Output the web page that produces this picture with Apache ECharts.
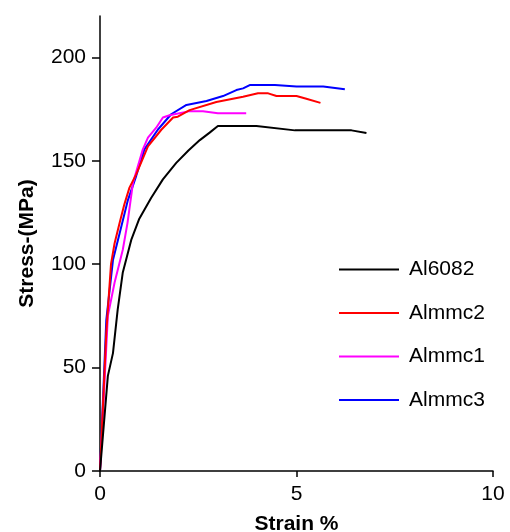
<!DOCTYPE html>
<html><head><meta charset="utf-8">
<script src="https://cdn.jsdelivr.net/npm/echarts@6/dist/echarts.min.js"></script>
<style>html,body{margin:0;padding:0;background:#fff}#c{width:510px;height:532px}</style>
</head><body><div id="c"></div>
<script>
const seriesNames = ['Al6082', 'Almmc2', 'Almmc1', 'Almmc3'];
const al6082 = [[0,0],[0.2,46],[0.33,57],[0.45,78],[0.58,96],[0.8,112],[1.0,122],[1.3,132],[1.6,141],[1.94,149],[2.25,155],[2.54,160],[2.79,163.6],[3.0,166.8],[3.98,166.8],[4.96,164.7],[6.4,164.7],[6.78,163.4]];
const almmc2 = [[0,0],[0.16,67],[0.28,100],[0.37,110],[0.5,120],[0.62,129],[0.75,137],[0.92,143.4],[1.22,157],[1.56,165],[1.86,170.9],[1.98,171.3],[2.28,174.5],[2.96,178.4],[3.64,181],[4.02,182.6],[4.28,182.6],[4.49,181.3],[5.0,181.3],[5.25,180],[5.61,178]];
const almmc1 = [[0,0],[0.2,75],[0.37,91],[0.58,107],[0.7,120],[0.84,139.4],[1.09,155.5],[1.22,161.2],[1.43,166],[1.6,170.9],[1.77,172],[2.28,174],[2.62,174],[3.0,173],[3.72,173]];
const almmc3 = [[0,0],[0.16,73],[0.33,102],[0.5,115],[0.71,131],[0.92,142.6],[1.13,155.5],[1.47,165],[1.81,172.5],[2.2,177],[2.71,178.9],[3.13,181.3],[3.47,184.2],[3.64,185],[3.81,186.6],[4.45,186.6],[5.0,185.9],[5.68,185.9],[6.23,184.6]];
const seriesData = [al6082, almmc2, almmc1, almmc3];
const colors = ['#000000', '#ff0000', '#ff00ff', '#0000ff'];
const yTicks = [0, 50, 100, 150, 200];
const xTicks = [0, 5, 10];

const chart = echarts.init(document.getElementById('c'), null, {renderer: 'canvas'});
const font = 'Liberation Sans, Arial, sans-serif';
chart.setOption({
  animation: false,
  backgroundColor: '#fff',
  grid: {left: 100, right: 17, top: 16, bottom: 61, containLabel: false, outerBoundsMode: 'none'},
  legend: {
    orient: 'vertical', left: 339, top: 259, padding: 0,
    itemWidth: 60, itemHeight: 2, itemGap: 22.5,
    icon: 'rect',
    data: seriesNames,
    textStyle: {fontFamily: font, fontSize: 21, color: '#000', padding: [0, 0, 0, 5]}
  },
  xAxis: {
    type: 'value', min: 0, max: 10, interval: 5,
    name: 'Strain %', nameLocation: 'middle', nameGap: 43,
    nameTextStyle: {fontFamily: font, fontSize: 21, fontWeight: 'bold', color: '#000'},
    axisLine: {show: true, lineStyle: {color: '#000', width: 1.5}},
    axisTick: {show: true, length: 6, customValues: xTicks, lineStyle: {color: '#000', width: 1.5}},
    axisLabel: {fontFamily: font, fontSize: 21, color: '#000', margin: 13, customValues: xTicks},
    splitLine: {show: false}
  },
  yAxis: {
    type: 'value', min: 0, max: 220,
    name: 'Stress-(MPa)', nameLocation: 'middle', nameGap: 62,
    nameTextStyle: {fontFamily: font, fontSize: 21, fontWeight: 'bold', color: '#000'},
    axisLine: {show: true, onZero: false, lineStyle: {color: '#000', width: 1.5}},
    axisTick: {show: true, length: 8, customValues: yTicks, lineStyle: {color: '#000', width: 1.5}},
    axisLabel: {fontFamily: font, fontSize: 21, color: '#000', margin: 14, customValues: yTicks},
    splitLine: {show: false}
  },
  series: seriesNames.map((n, i) => ({
    name: n, type: 'line', data: seriesData[i], showSymbol: false, symbol: 'none',
    color: colors[i], lineStyle: {color: colors[i], width: 2}, smooth: false, z: 10 - i
  }))
});
</script></body></html>
